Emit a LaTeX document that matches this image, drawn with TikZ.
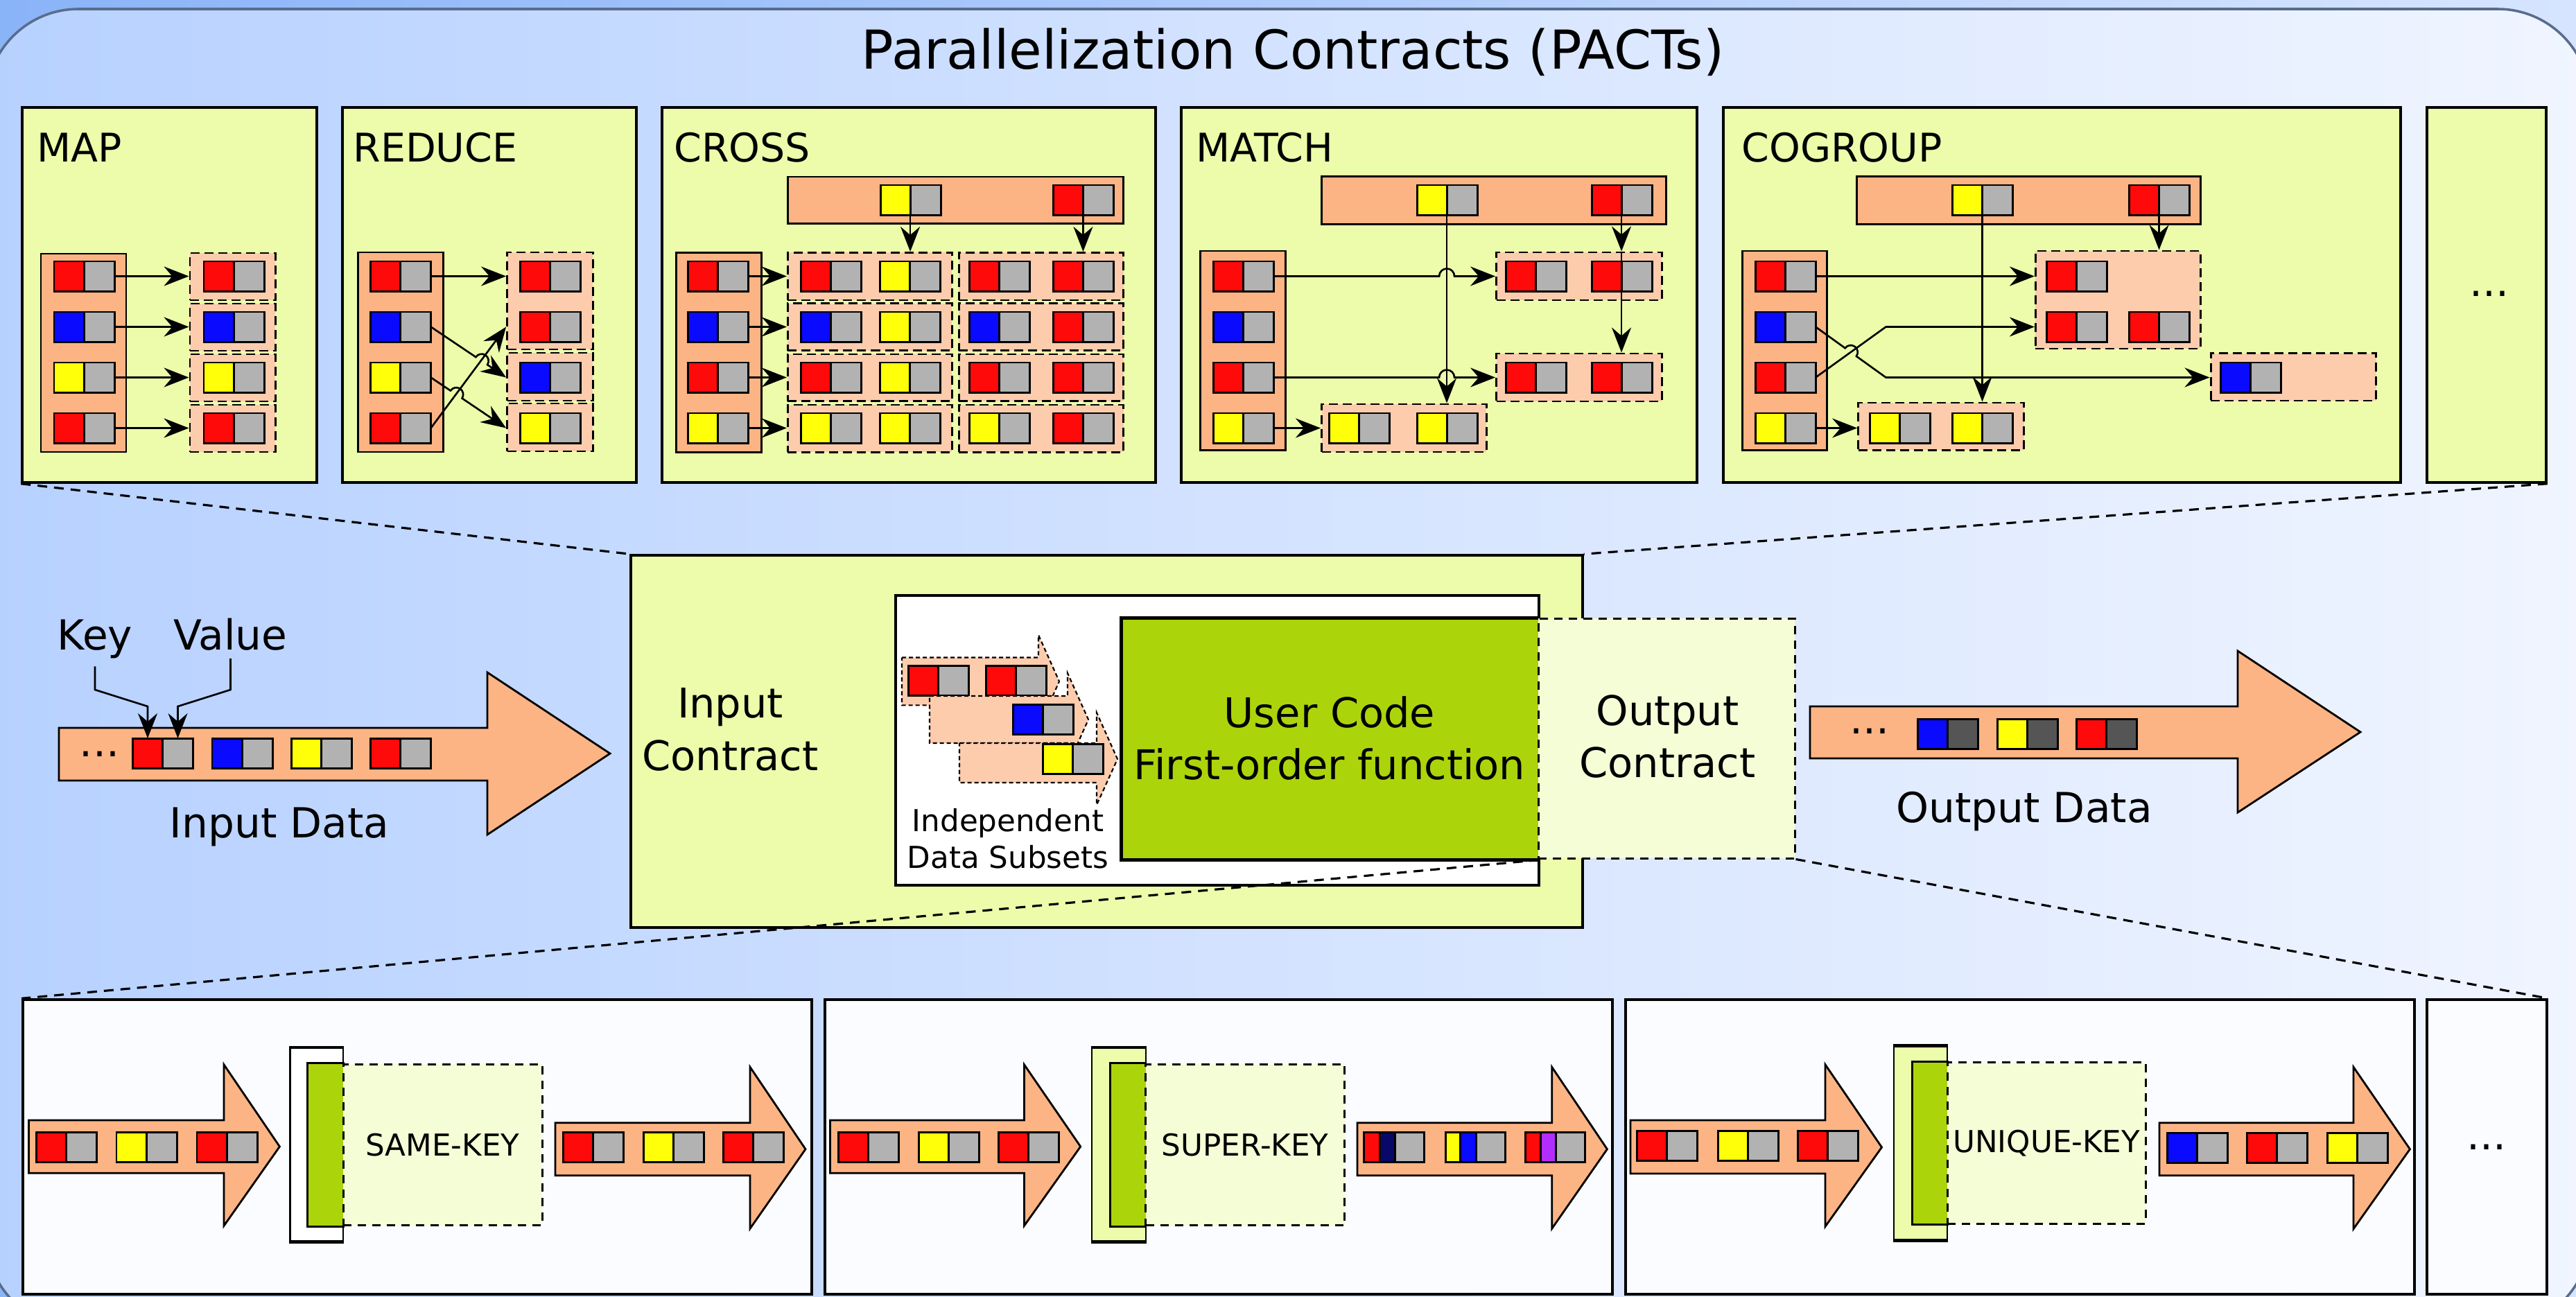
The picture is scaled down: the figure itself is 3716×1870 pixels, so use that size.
\documentclass[tikz,border=0pt]{standalone}
\usepackage{fontspec}
\setmainfont{DejaVu Sans}
\usetikzlibrary{
    arrows.meta,
    positioning,
    calc,
    fit
}
\definecolor{panelyellow}{RGB}{236, 252, 171}
\definecolor{salmon}{RGB}{252, 180, 132}
\definecolor{lightsalmon}{RGB}{253, 204, 173}
\definecolor{keyred}{RGB}{255, 10, 10}
\definecolor{keyblue}{RGB}{10, 10, 255}
\definecolor{keyyellow}{RGB}{255, 255, 10}
\definecolor{keynavy}{RGB}{8, 8, 104}
\definecolor{keypurple}{RGB}{180, 45, 255}
\definecolor{valgray}{RGB}{178, 178, 178}
\definecolor{valdark}{RGB}{85, 85, 85}
\definecolor{codegreen}{RGB}{172, 212, 10}
\definecolor{outpale}{RGB}{244, 253, 214}
\definecolor{lowwhite}{RGB}{250, 252, 255}
\definecolor{bgleft}{RGB}{183, 209, 255}
\definecolor{bgright}{RGB}{240, 245, 255}
\definecolor{outerleft}{RGB}{138, 180, 248}
\definecolor{outerright}{RGB}{214, 228, 255}
\definecolor{frameline}{RGB}{88, 108, 140}

% key/value record: name, x, y (top left), key colour, value colour
\newcommand{\kvrec}[5]{%
    \node[keycell, fill=#4] (#1k) at (#2, #3) {};
    \node[valcell, fill=#5] (#1v) at (#1k.north east) {};
}
% record with a split key: name, x, y, colour 1, colour 2, width 1, width 2
\newcommand{\kvtrec}[7]{%
    \node[keycell, fill=#4, minimum width=#6] (#1a) at (#2, #3) {};
    \node[keycell, fill=#5, minimum width=#7] (#1b) at (#1a.north east) {};
    \node[valcell, fill=valgray, minimum width=0.42cm] (#1c) at (#1b.north east) {};
}
% block arrow: style, x start, x head, x tip, body top, body bottom, head top, head bottom, tip y
\newcommand{\fatarrow}[9]{%
    \draw[#1] (#2, #5) -- (#3, #5) -- (#3, #7) -- (#4, #9) -- (#3, #8) -- (#3, #6) -- (#2, #6) -- cycle;
}

\begin{document}
\begin{tikzpicture}[
        x=0.01cm, y=-0.01cm, line width=0.85pt,
        keycell/.style={draw, anchor=north west, inner sep=0, outer sep=0, minimum width=0.43cm, minimum height=0.43cm},
        valcell/.style={keycell, minimum width=0.44cm},
        panel/.style={draw, fill=panelyellow, inner sep=0, line width=1pt},
        lowpanel/.style={draw, fill=lowwhite, inner sep=0, line width=1pt},
        recbox/.style={draw, fill=salmon, inner sep=0},
        grp/.style={draw, fill=lightsalmon, inner sep=0, line width=0.85pt, dash pattern=on 0.13cm off 0.07cm},
        dashbox/.style={draw, fill=outpale, inner sep=0, line width=0.85pt, dash pattern=on 0.12cm off 0.09cm},
        stream/.style={draw, fill=salmon, line width=0.8pt},
        subset/.style={draw, fill=lightsalmon, line width=0.6pt, dash pattern=on 0.06cm off 0.04cm},
        arrow/.style={-{Stealth[length=0.36cm, width=0.28cm, inset=0.12cm]}, line width=0.75pt},
        zoomline/.style={line width=0.9pt, dash pattern=on 0.14cm off 0.1cm},
        heading/.style={font=\fontsize{22}{26}\selectfont, inner sep=0},
        plabel/.style={font=\fontsize{16.2}{20}\selectfont, inner sep=0, anchor=base west},
        txt/.style={font=\fontsize{17}{21.4}\selectfont, inner sep=0},
        ctxt/.style={font=\fontsize{16.8}{21.4}\selectfont, inner sep=0, align=center},
        smalltxt/.style={font=\fontsize{12.4}{15.1}\selectfont, inner sep=0, align=center}
    ]
        \useasboundingbox (0, 0) rectangle (3716, 1870);

        % Background
        \shade[left color=outerleft, right color=outerright] (0, 0) rectangle (3716, 1870);
        \shade[left color=bgleft, right color=bgright, rounded corners=1.33cm] (-20, 13) rectangle (3736, 1916);
        \draw[frameline, line width=1pt, rounded corners=1.33cm] (-20, 13) rectangle (3736, 1916);

        \node[heading, anchor=base] (title) at (1865, 100) {Parallelization Contracts (PACTs)};

        % PACT panels
        \node[panel, fit={(32, 155) (457, 696)}] (map) {};
        \node[panel, fit={(494, 155) (918, 696)}] (reduce) {};
        \node[panel, fit={(955, 155) (1667, 696)}] (cross) {};
        \node[panel, fit={(1704, 155) (2448, 696)}] (match) {};
        \node[panel, fit={(2486, 155) (3463, 696)}] (cogroup) {};
        \node[panel, fit={(3501, 155) (3673, 696)}] (moretop) {};
        \node[txt, anchor=base] (moretopdots) at (3591, 428) {...};

        \node[plabel] (maplbl) at (52, 234) {MAP};
        \node[plabel] (reducelbl) at (508, 234) {REDUCE};
        \node[plabel] (crosslbl) at (971, 234) {CROSS};
        \node[plabel] (matchlbl) at (1724, 234) {MATCH};
        \node[plabel] (cogrouplbl) at (2511, 234) {COGROUP};

        % MAP
        \node[recbox, fit={(59, 366) (182, 652)}] (mapin) {};
        \foreach \i/\kc/\y/\gt/\gb in {1/keyred/377/365/433, 2/keyblue/450/438/506, 3/keyyellow/523/511/579, 4/keyred/596/584/652} {
            \kvrec{mi\i}{78}{\y}{\kc}{valgray}
            \node[grp, fit={(274, \gt) (397, \gb)}] (mo\i) {};
            \kvrec{mr\i}{294}{\y}{\kc}{valgray}
            \draw[arrow] (mi\i v.east) -- (mi\i v.east -| mo\i.west);
        }

        % REDUCE
        \node[recbox, fit={(516, 364) (639, 652)}] (redin) {};
        \kvrec{ri1}{534.5}{377}{keyred}{valgray}
        \kvrec{ri2}{534.5}{450}{keyblue}{valgray}
        \kvrec{ri3}{534.5}{523}{keyyellow}{valgray}
        \kvrec{ri4}{534.5}{596}{keyred}{valgray}
        \node[grp, fit={(731.6, 364) (855, 504)}] (ro1) {};
        \node[grp, fit={(731.6, 509) (855, 578)}] (ro2) {};
        \node[grp, fit={(731.6, 582) (855, 651)}] (ro3) {};
        \kvrec{rr1}{750}{377}{keyred}{valgray}
        \kvrec{rr2}{750}{450}{keyred}{valgray}
        \kvrec{rr3}{750}{523}{keyblue}{valgray}
        \kvrec{rr4}{750}{596}{keyyellow}{valgray}
        \draw[arrow] (ri1v.east) -- (ri1v.east -| ro1.west);
        \draw[arrow] (ri4v.east) -- (ro1.west |- rr2k.west);
        \draw[arrow] (ri2v.east) -- ($(ri2v.east)!0.781cm!(ro2.west |- rr3k.west)$)
            arc[start angle=146.5, delta angle=-180, radius=0.1cm] -- (ro2.west |- rr3k.west);
        \draw[arrow] (ri3v.east) -- ($(ri3v.east)!0.341cm!(ro3.west |- rr4k.west)$)
            arc[start angle=146.5, delta angle=-180, radius=0.1cm] -- (ro3.west |- rr4k.west);

        % CROSS
        \node[recbox, fit={(1136.4, 255) (1620.6, 322.7)}] (crosstop) {};
        \kvrec{ct1}{1270}{267}{keyyellow}{valgray}
        \kvrec{ct2}{1519.4}{267}{keyred}{valgray}
        \node[recbox, fit={(975, 364.5) (1098, 652.3)}] (crossin) {};
        \foreach \i/\kc/\y/\gt/\gb in {1/keyred/377/364.5/433, 2/keyblue/450/437.8/505.8, 3/keyred/523/511/578.7, 4/keyyellow/596/584/652.3} {
            \kvrec{ci\i}{992}{\y}{\kc}{valgray}
            \node[grp, fit={(1136.4, \gt) (1373, \gb)}] (cga\i) {};
            \node[grp, fit={(1383, \gt) (1620.6, \gb)}] (cgb\i) {};
            \kvrec{cxa\i}{1155}{\y}{\kc}{valgray}
            \kvrec{cxb\i}{1269}{\y}{keyyellow}{valgray}
            \kvrec{cxc\i}{1398.6}{\y}{\kc}{valgray}
            \kvrec{cxd\i}{1519.4}{\y}{keyred}{valgray}
            \draw[arrow] (ci\i v.east) -- (ci\i v.east -| cga\i.west);
        }
        \draw[arrow] (ct1k.south east) -- (ct1k.south east |- cga1.north);
        \draw[arrow] (ct2k.south east) -- (ct2k.south east |- cgb1.north);

        % MATCH
        \node[recbox, fit={(1906.5, 254.7) (2403, 323.5)}] (matchtop) {};
        \kvrec{mt1}{2044}{267}{keyyellow}{valgray}
        \kvrec{mt2}{2296}{267}{keyred}{valgray}
        \node[recbox, fit={(1731.5, 362) (1854.5, 649.4)}] (matchin) {};
        \kvrec{mci1}{1750}{377}{keyred}{valgray}
        \kvrec{mci2}{1750}{450}{keyblue}{valgray}
        \kvrec{mci3}{1750}{523}{keyred}{valgray}
        \kvrec{mci4}{1750}{596}{keyyellow}{valgray}
        \node[grp, fit={(2158.6, 364) (2397, 433)}] (mg1) {};
        \node[grp, fit={(2158.6, 510) (2397, 579)}] (mg2) {};
        \node[grp, fit={(1906.5, 583) (2144, 652)}] (mg3) {};
        \kvrec{mgr1}{2172}{377}{keyred}{valgray}
        \kvrec{mgr2}{2296}{377}{keyred}{valgray}
        \kvrec{mgr3}{2172}{523}{keyred}{valgray}
        \kvrec{mgr4}{2296}{523}{keyred}{valgray}
        \kvrec{mgr5}{1917.7}{596}{keyyellow}{valgray}
        \kvrec{mgr6}{2044}{596}{keyyellow}{valgray}
        \draw[arrow] (mt1k.south east) -- (mt1k.south east |- mg3.north);
        \draw[arrow] (mt2k.south east) -- (mt2k.south east |- mg1.north);
        \draw[arrow] (mt2k.south east |- mg1.north) -- (mt2k.south east |- mg2.north);
        \draw[arrow] (mci1v.east) -- ($(mci1v.east -| mt1k.south east)+(-11, 0)$)
            arc[start angle=180, delta angle=-180, radius=0.11cm] -- (mci1v.east -| mg1.west);
        \draw[arrow] (mci3v.east) -- ($(mci3v.east -| mt1k.south east)+(-11, 0)$)
            arc[start angle=180, delta angle=-180, radius=0.11cm] -- (mci3v.east -| mg2.west);
        \draw[arrow] (mci4v.east) -- (mci4v.east -| mg3.west);

        % COGROUP
        \node[recbox, fit={(2678, 254.7) (3174, 323.5)}] (cogtop) {};
        \kvrec{gt1}{2816.5}{267}{keyyellow}{valgray}
        \kvrec{gt2}{3071.5}{267}{keyred}{valgray}
        \node[recbox, fit={(2513.7, 362) (2635, 649.4)}] (cogin) {};
        \kvrec{gi1}{2532}{377}{keyred}{valgray}
        \kvrec{gi2}{2532}{450}{keyblue}{valgray}
        \kvrec{gi3}{2532}{523}{keyred}{valgray}
        \kvrec{gi4}{2532}{596}{keyyellow}{valgray}
        \node[grp, fit={(2936.4, 362) (3174, 503)}] (gga) {};
        \node[grp, fit={(3189, 509.5) (3427.5, 578)}] (ggb) {};
        \node[grp, fit={(2680.6, 581) (2919.7, 649.4)}] (ggc) {};
        \kvrec{gr1}{2952}{377}{keyred}{valgray}
        \kvrec{gr2}{2952}{450}{keyred}{valgray}
        \kvrec{gr3}{3071.5}{450}{keyred}{valgray}
        \kvrec{gr4}{3203.4}{523}{keyblue}{valgray}
        \kvrec{gr5}{2697}{596}{keyyellow}{valgray}
        \kvrec{gr6}{2816.5}{596}{keyyellow}{valgray}
        \draw[arrow] (gt1k.south east) -- (gt1k.south east |- ggc.north);
        \draw[arrow] (gt2k.south east) -- (gt2k.south east |- gga.north);
        \draw[arrow] (gi1v.east) -- (gi1v.east -| gga.west);
        \draw[arrow] (gi3v.east) -- ++(101.4, -73) -- (gr2k.west -| gga.west);
        \draw[arrow] (gi2v.east) -- ++(42.6, 30.7)
            arc[start angle=144.25, delta angle=-180, radius=0.1cm]
            -- ($(gi2v.east)+(101.4, 73)$) -- (gr4k.west -| ggb.west);
        \draw[arrow] (gi4v.east) -- (gi4v.east -| ggc.west);

        % Input data
        \fatarrow{stream}{85}{703}{880}{1050}{1126}{970}{1204}{1087}
        \kvrec{in1}{191.5}{1065}{keyred}{valgray}
        \kvrec{in2}{306}{1065}{keyblue}{valgray}
        \kvrec{in3}{420}{1065}{keyyellow}{valgray}
        \kvrec{in4}{534.7}{1065}{keyred}{valgray}
        \node[txt, anchor=base] (indots) at (143.5, 1091) {...};
        \node[txt, anchor=base, inner sep=3pt] (keylbl) at (137, 937) {Key};
        \node[txt, anchor=base, inner sep=3pt] (vallbl) at (332.5, 937) {Value};
        \draw[arrow] (keylbl.south) -- (keylbl.south |- 0,995) -- (in1k.north |- 0,1019) -- (in1k.north);
        \draw[arrow] (vallbl.south) -- (vallbl.south |- 0,995) -- (in1v.north |- 0,1019) -- (in1v.north);
        \node[txt, anchor=base] (indatalbl) at (403, 1208.5) {Input Data};

        % Contracts and user code
        \node[panel, fit={(910, 801) (2283, 1338)}] (inctr) {};
        \node[ctxt] (inctrlbl) at (1053.5, 1052.5) {Input\\Contract};
        \node[draw, fill=white, line width=1.2pt, inner sep=0, fit={(1292, 859) (2220, 1277)}] (udf) {};

        \fatarrow{subset}{1301}{1498}{1528}{948.5}{1017.4}{916}{1050}{983}
        \kvrec{s1}{1310.7}{960.7}{keyred}{valgray}
        \kvrec{s2}{1422.3}{960.7}{keyred}{valgray}
        \fatarrow{subset}{1341}{1540}{1570}{1004}{1072}{971}{1105}{1038}
        \kvrec{s3}{1461.6}{1016.4}{keyblue}{valgray}
        \fatarrow{subset}{1384}{1582}{1612}{1072}{1129}{1028}{1161}{1095}
        \kvrec{s4}{1504.5}{1073.5}{keyyellow}{valgray}
        \node[smalltxt] (subsetlbl) at (1454, 1210) {Independent\\Data Subsets};

        \node[fill=codegreen, inner sep=0, fit={(1619, 893) (2219, 1239)}] (ucode) {};
        \draw[line width=1.2pt] (ucode.north east) -- (ucode.north west) -- (ucode.south west) -- (ucode.south east);
        \node[ctxt] (ucodelbl) at (1918, 1065) {User Code\\First-order function};
        \node[dashbox, fit={(2219, 892) (2589, 1238)}] (octr) {};
        \node[ctxt] (octrlbl) at (2405.5, 1062.6) {Output\\Contract};

        % Output data
        \fatarrow{stream}{2611}{3228}{3405}{1019}{1094}{939}{1172}{1056}
        \kvrec{o1}{2766}{1037}{keyblue}{valdark}
        \kvrec{o2}{2881}{1037}{keyyellow}{valdark}
        \kvrec{o3}{2995}{1037}{keyred}{valdark}
        \node[txt, anchor=base] (outdots) at (2696.5, 1058) {...};
        \node[txt, anchor=base] (outdatalbl) at (2920, 1186) {Output Data};

        % Output contract panels
        \node[lowpanel, fit={(33, 1442) (1171, 1867)}] (same) {};
        \node[lowpanel, fit={(1190, 1442) (2326, 1867)}] (super) {};
        \node[lowpanel, fit={(2345, 1442) (3483, 1867)}] (unique) {};
        \node[lowpanel, fit={(3501, 1442) (3674, 1867)}] (morelow) {};
        \node[txt, anchor=base] (morelowdots) at (3587, 1658) {...};

        \foreach \nm/\fc/\xa/\xb/\xc/\xd/\ya/\yb/\yc/\yd/\txt in {
                same/white/418.5/444.8/495/782/1512/1790.7/1535/1767.7/SAME-KEY,
                super/panelyellow/1575.4/1602.5/1652.7/1939.7/1512/1790.7/1535/1767.7/SUPER-KEY,
                unique/panelyellow/2732/2759.6/2809/3095.5/1509.3/1788.3/1532.7/1765/UNIQUE-KEY} {
            \node[draw, fill=\fc, line width=0.6pt, inner sep=0, fit={(\xa, \ya) (\xc, \yb)}] (\nm bar) {};
            \draw[line width=1.4pt] (\nm bar.north west) -- (\nm bar.north east) (\nm bar.south west) -- (\nm bar.south east);
            \node[fill=codegreen, inner sep=0, fit={(\xb, \yc) (\xc, \yd)}] (\nm green) {};
            \draw (\nm green.north east) -- (\nm green.north west) -- (\nm green.south west) -- (\nm green.south east);
            \node[dashbox, fit={(\xc, \yc) (\xd, \yd)}] (\nm box) {};
            \node[smalltxt] (\nm lbl) at (\nm box.center) {\txt};
        }

        % SAME-KEY
        \fatarrow{stream}{41.5}{323}{403.4}{1616}{1692.3}{1535.7}{1768.3}{1654}
        \kvrec{a1}{52.6}{1633.3}{keyred}{valgray}
        \kvrec{a2}{168}{1633.3}{keyyellow}{valgray}
        \kvrec{a3}{284}{1633.3}{keyred}{valgray}
        \fatarrow{stream}{801}{1082}{1162}{1619.7}{1695.7}{1539.3}{1772.3}{1657.7}
        \kvrec{b1}{812}{1633.3}{keyred}{valgray}
        \kvrec{b2}{928}{1633.3}{keyyellow}{valgray}
        \kvrec{b3}{1043.5}{1633.3}{keyred}{valgray}

        % SUPER-KEY
        \fatarrow{stream}{1197.5}{1477.4}{1558.7}{1616}{1692.3}{1535.7}{1768.3}{1654}
        \kvrec{c1}{1209.5}{1633.3}{keyred}{valgray}
        \kvrec{c2}{1325}{1633.3}{keyyellow}{valgray}
        \kvrec{c3}{1440.7}{1633.3}{keyred}{valgray}
        \fatarrow{stream}{1958}{2238.7}{2318.4}{1619.7}{1695.7}{1539.3}{1772.3}{1657.7}
        \kvtrec{d1}{1967.6}{1633.3}{keyred}{keynavy}{0.23cm}{0.22cm}
        \kvtrec{d2}{2085}{1633.3}{keyyellow}{keyblue}{0.21cm}{0.23cm}
        \kvtrec{d3}{2200.4}{1633.3}{keyred}{keypurple}{0.22cm}{0.22cm}

        % UNIQUE-KEY
        \fatarrow{stream}{2352}{2633}{2714.5}{1616}{1693}{1535.7}{1769.3}{1655}
        \kvrec{e1}{2361.8}{1631}{keyred}{valgray}
        \kvrec{e2}{2478.5}{1631}{keyyellow}{valgray}
        \kvrec{e3}{2593.4}{1631}{keyred}{valgray}
        \fatarrow{stream}{3115}{3395}{3476.4}{1619.7}{1695.7}{1539.3}{1772.7}{1657.7}
        \kvrec{f1}{3126.4}{1634.3}{keyblue}{valgray}
        \kvrec{f2}{3241}{1634.3}{keyred}{valgray}
        \kvrec{f3}{3357}{1634.3}{keyyellow}{valgray}

        % Zoom lines
        \draw[zoomline] (map.south west) -- (inctr.north west);
        \draw[zoomline] (moretop.south east) -- (inctr.north east);
        \draw[zoomline] (ucode.south east) -- (same.north west);
        \draw[zoomline] (octr.south east) -- (morelow.north east);
    \end{tikzpicture}
\end{document}
